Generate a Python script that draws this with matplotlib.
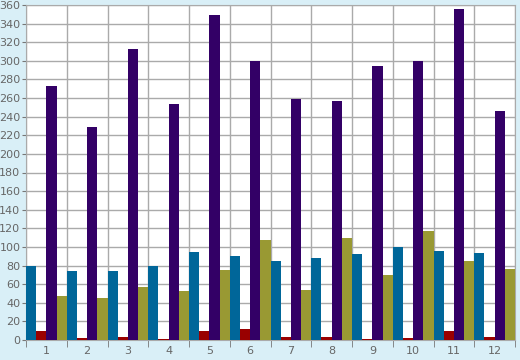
import matplotlib
matplotlib.use("Agg")
import matplotlib.pyplot as plt
import numpy as np

months = ["1", "2", "3", "4", "5", "6", "7", "8", "9", "10", "11", "12"]
series_a = [80, 74, 74, 80, 95, 90, 85, 88, 92, 100, 96, 94]
series_b = [10, 2, 3, 1, 10, 12, 3, 3, 1, 2, 10, 3]
series_c = [273, 229, 313, 254, 349, 300, 259, 257, 294, 300, 356, 246]
series_d = [47, 45, 57, 53, 75, 107, 54, 110, 70, 117, 85, 76]

colors = ["#006699", "#990000", "#330066", "#999933"]
bg = "#d9eff7"
grid_c = "#aaaaaa"

fig = plt.figure(figsize=(5.2, 3.6), dpi=100, facecolor=bg)
ax = fig.add_axes([26 / 520, 20 / 360, 489 / 520, 335 / 360])
ax.set_facecolor("white")

x = np.arange(len(months))
w = 0.25
for i, (vals, c) in enumerate(zip([series_a, series_b, series_c, series_d], colors)):
    ax.bar(x - 0.5 + w * i, vals, width=w, align="edge", color=c, zorder=3)

ax.set_xlim(-0.5, len(months) - 0.5)
ax.set_ylim(0, 360)
ax.set_yticks(range(0, 361, 20))
ax.set_xticks(x)
ax.set_xticklabels(months)
ax.set_xticks(np.arange(-0.5, len(months)), minor=True)

ax.grid(True, axis="y", color=grid_c, linewidth=1, zorder=0)
ax.grid(True, axis="x", which="minor", color=grid_c, linewidth=1, zorder=0)
ax.tick_params(axis="x", which="major", length=0, pad=4, labelsize=8, labelcolor="#666666")
ax.tick_params(axis="x", which="minor", length=5, color="#777777")
ax.tick_params(axis="y", length=3, pad=1, labelsize=8, labelcolor="#666666", color="#777777")
for s in ax.spines.values():
    s.set_color(grid_c)

fig.savefig("out.png", dpi=100, facecolor=bg)
